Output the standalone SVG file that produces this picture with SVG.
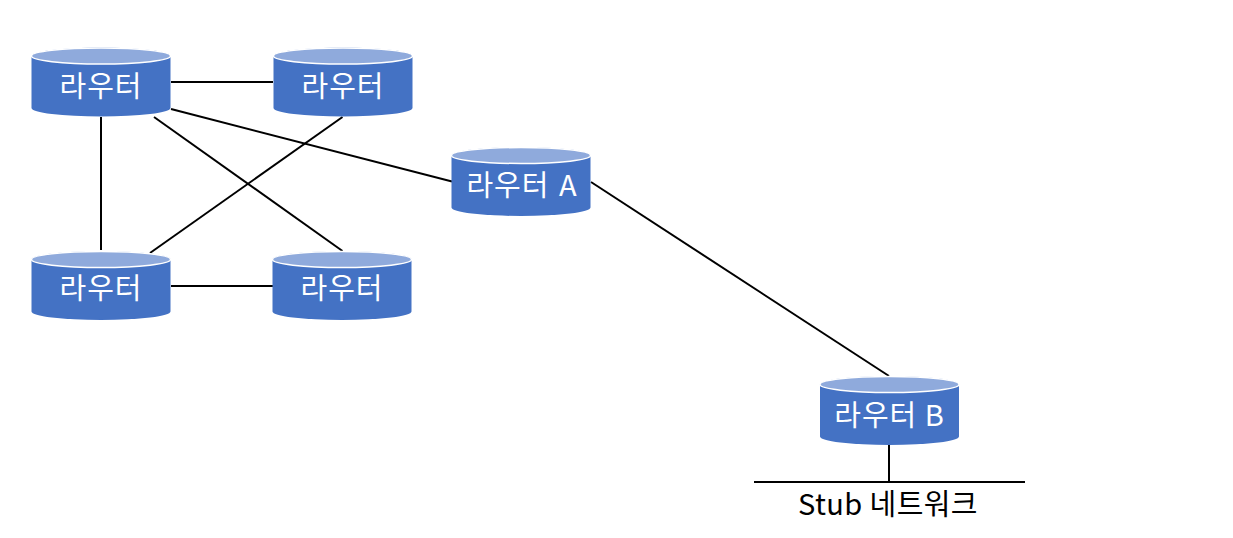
<svg xmlns="http://www.w3.org/2000/svg" width="1233" height="538" viewBox="0 0 1233 538">
<style>
.body{fill:#4472c4}
.top{fill:#8faadc;stroke:#fff;stroke-width:1.5}
.lbl{font-family:"Noto Sans CJK KR","Noto Sans",sans-serif;font-size:29px;font-weight:400;letter-spacing:1px;fill:#fff;text-anchor:middle}
.cap{font-family:"Noto Sans CJK KR","Noto Sans",sans-serif;font-size:29px;font-weight:400;letter-spacing:.4px;fill:#000;text-anchor:middle}
.c{stroke:#000;stroke-width:2;fill:none}
</style>
<defs>
<g id="cyl">
<path class="body" d="M-69.500 -26V26A69.500 8.500 0 0 0 69.500 26V-26A69.500 8.500 0 0 0 -69.500 -26Z"/>
<ellipse class="top" cx="0" cy="-26" rx="69.500" ry="8"/>
</g>
</defs>
<rect width="1233" height="538" fill="#fff"/>
<g id="connectors">
<line class="c" x1="171" y1="82" x2="273" y2="82"/>
<line class="c" x1="171" y1="109" x2="452" y2="181.500"/>
<line class="c" x1="101" y1="117" x2="101" y2="250"/>
<line class="c" x1="154" y1="117" x2="342.500" y2="251"/>
<line class="c" x1="342.500" y1="117" x2="150" y2="253"/>
<line class="c" x1="171" y1="286" x2="273" y2="286"/>
<line class="c" x1="591" y1="182" x2="889" y2="376"/>
<line class="c" x1="889" y1="445" x2="889" y2="482"/>
<line class="c" x1="754" y1="482" x2="1025" y2="482"/>
</g>
<g id="r1"><use href="#cyl" x="101" y="82"/><text class="lbl" x="101" y="97">라우터</text></g>
<g id="r2"><use href="#cyl" x="343" y="82"/><text class="lbl" x="343" y="97">라우터</text></g>
<g id="r3"><use href="#cyl" x="101" y="285.500"/><text class="lbl" x="101" y="299">라우터</text></g>
<g id="r4"><use href="#cyl" x="342" y="285.500"/><text class="lbl" x="342" y="299">라우터</text></g>
<g id="ra"><use href="#cyl" x="521" y="181.500"/><text class="lbl" x="522" y="196" word-spacing="2">라우터 A</text></g>
<g id="rb"><use href="#cyl" x="889.500" y="410.500"/><text class="lbl" x="889.500" y="426" letter-spacing=".4">라우터 B</text></g>
<g id="stub"><text class="cap" x="888" y="515">Stub 네트워크</text></g>
</svg>
